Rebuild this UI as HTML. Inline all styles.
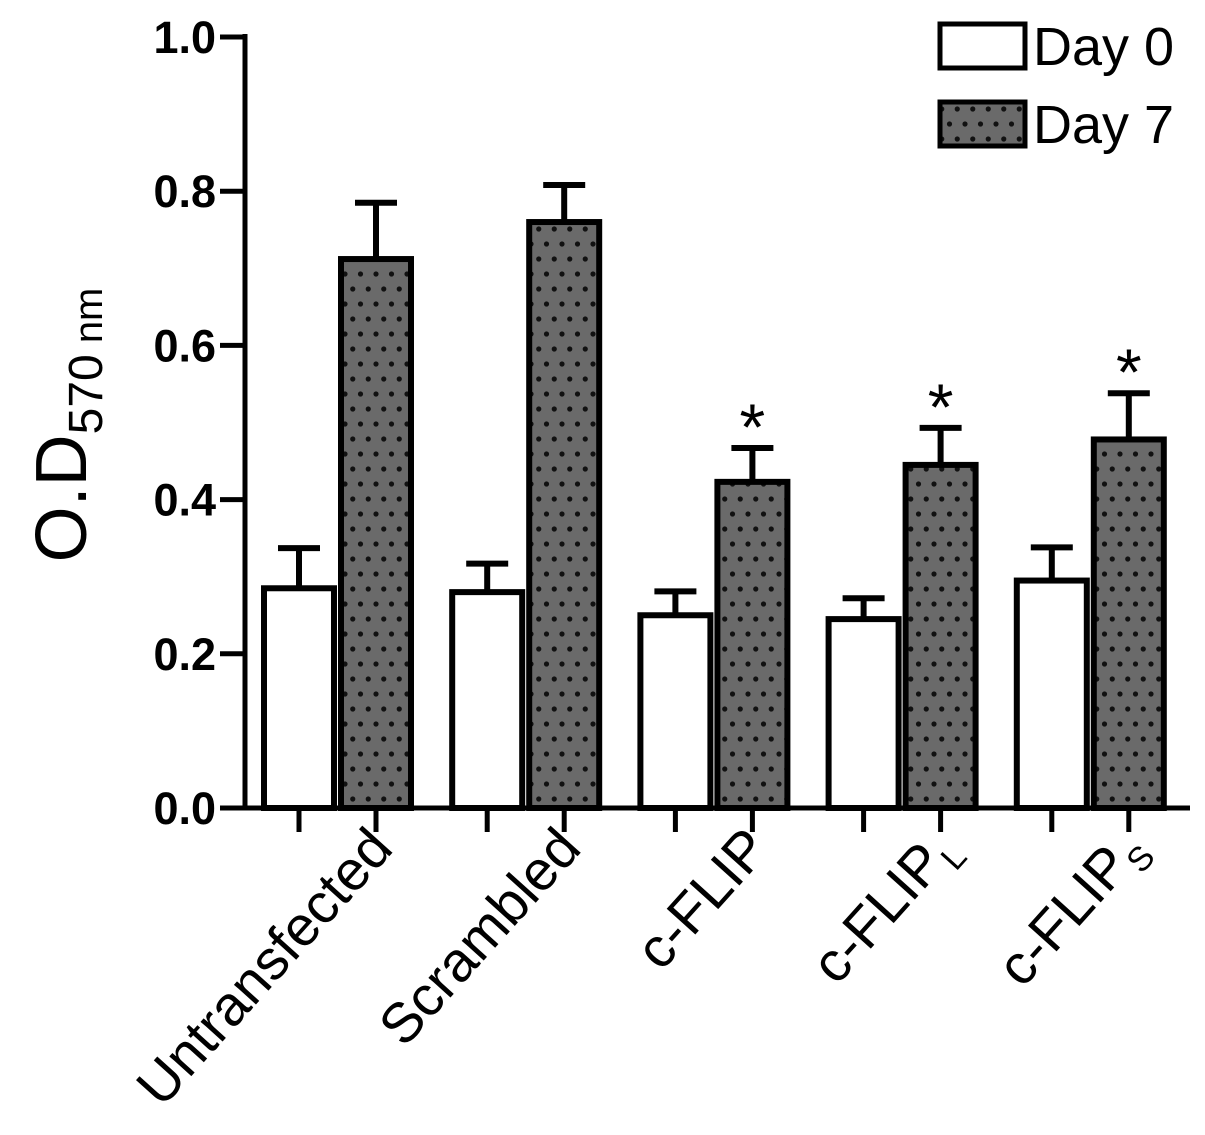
<!DOCTYPE html>
<html><head><meta charset="utf-8"><style>
body{margin:0;background:#fff}
svg{display:block;font-family:"Liberation Sans",Arial,sans-serif}
</style></head><body>
<svg id="chart" width="1205" height="1135" viewBox="0 0 1205 1135" xmlns="http://www.w3.org/2000/svg">
<defs>
<pattern id="dots" patternUnits="userSpaceOnUse" width="15.5" height="30">
<rect width="15.5" height="30" fill="#6a6a6a"/>
<circle cx="4" cy="4" r="2.6" fill="#111"/>
<circle cx="11.75" cy="19" r="2.6" fill="#111"/>
</pattern>
</defs>
<g id="plot"></g>
</svg>
<script>
const categories=["Untransfected","Scrambled","c-FLIP","c-FLIP","c-FLIP"];
const subs=["","","","L","S"];
const day0=[0.285,0.28,0.25,0.245,0.295];
const day0Err=[0.052,0.037,0.031,0.027,0.043];
const day7=[0.712,0.76,0.423,0.445,0.478];
const day7Err=[0.073,0.048,0.044,0.048,0.06];
const sig=[false,false,true,true,true];
const yTicks=["0.0","0.2","0.4","0.6","0.8","1.0"];

const NS="http://www.w3.org/2000/svg";
const g=document.getElementById('plot');
const y0=808,y1=37;
const y=v=>y0-(y0-y1)*v;
const grpX=i=>299+i*188.2;
function el(t,a,p){const e=document.createElementNS(NS,t);for(const k in a)e.setAttribute(k,a[k]);(p||g).appendChild(e);return e;}

function bar(cx,v,e,fill,name){
  const w=76;
  const eb=el('path',{d:`M${cx} ${y(v)} V${y(v+e)} M${cx-21} ${y(v+e)} H${cx+21}`,stroke:'#000','stroke-width':6,fill:'none'});
  
  
  const r=el('rect',{x:cx-w/2+3,y:y(v),width:w-6,height:y0-y(v),fill:fill,stroke:'#000','stroke-width':6});
  
  
}
categories.forEach((c,i)=>{
  const gx=grpX(i);
  bar(gx,day0[i],day0Err[i],'#fff','bar-day0-'+i);
  bar(gx+77,day7[i],day7Err[i],'url(#dots)','bar-day7-'+i);
  if(sig[i]){
    const s=el('text',{x:gx+77,y:y(day7[i]+day7Err[i])+2,'font-size':66,'text-anchor':'middle'});
    s.textContent='*';
    
    
  }
  [gx,gx+77].forEach(tx=>el('line',{x1:tx,y1:y0,x2:tx,y2:y0+24,stroke:'#000','stroke-width':5}));
  const t=el('text',{transform:`translate(${gx+96},${y0+42}) rotate(-48)`,'font-size':56,'text-anchor':'end'});
  t.textContent=c;
  if(subs[i]){const ts=el('tspan',{'font-size':34,dy:12},t);ts.textContent=subs[i];}
  
  
});
const ax=el('path',{d:`M245 34 V${y0} H1190`,stroke:'#000','stroke-width':5,fill:'none'});


yTicks.forEach((lab,i)=>{
  const v=parseFloat(lab),yy=y(v);
  el('line',{x1:220,y1:yy,x2:245,y2:yy,stroke:'#000','stroke-width':5});
  const t=el('text',{x:216,y:yy+16,'font-size':45,'font-weight':'bold','text-anchor':'end'});
  t.textContent=lab;
  
  
});
const yt=el('text',{transform:'translate(86,425) rotate(-90)','font-size':72,'text-anchor':'middle'});
yt.innerHTML='O.D<tspan font-size="48" dy="16">570</tspan><tspan font-size="40"> nm</tspan>';


[['Day 0','#fff',46],['Day 7','url(#dots)',124]].forEach(([lab,f,cy],i)=>{
  el('rect',{x:940,y:cy-22,width:85,height:44,fill:f,stroke:'#000','stroke-width':5});
  const t=el('text',{x:1033,y:cy+19,'font-size':54});
  t.textContent=lab;
  
  
});
</script>
</body></html>
